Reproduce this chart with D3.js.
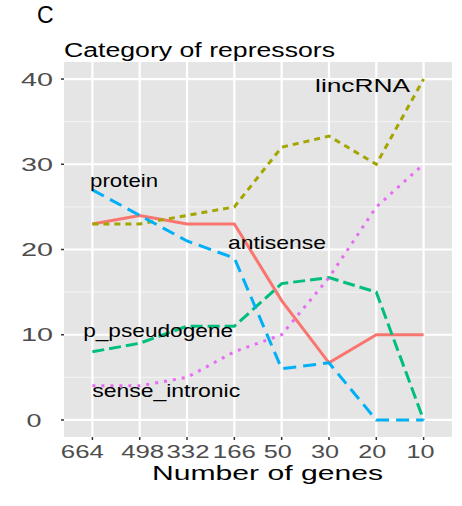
<!DOCTYPE html>
<html>
<head>
<meta charset="utf-8">
<script src="https://cdn.jsdelivr.net/npm/d3@7"></script>
<style>
  body { margin: 0; background: #fff; }
  svg text { font-family: "Liberation Sans", Arial, sans-serif; }
</style>
</head>
<body>
<svg id="chart" width="462" height="506"></svg>
<script>
// DATA
const genes = ["664", "498", "332", "166", "50", "30", "20", "10"];
const categories = ["antisense", "lincRNA", "p_pseudogene", "protein", "sense_intronic"];
const antisense = [23, 24, 23, 23, 14, 6.7, 10, 10];
const lincRNA = [23, 23, 24, 25, 32, 33.3, 30, 40];
const pPseudogene = [8, 9, 11, 11, 16, 16.7, 15, 0];
const protein = [27, 24, 21, 19, 6, 6.7, 0, 0];
const senseIntronic = [4, 4, 5, 8, 10, 16.7, 25, 30];
const yTicks = [0, 10, 20, 30, 40];

// label anchors (category index, value)
const labelIdx = [3.9, 5.71, 1.39, 0.67, 1.56];
const labelVal = [20.8, 39.3, 10.55, 28.15, 3.5];

// SETUP
const panel = { left: 64, right: 452, top: 62, bottom: 437 };
const colors = ["#F8766D", "#A3A500", "#00BF7D", "#00B0F6", "#E76BF3"];
const dashes = [null, "6,5", "12,5", "13,7", "3,6"];
const labelWidth = [98, 95, 150, 68, 148];

const svg = d3.select("#chart");

// SCALES
const x = d3.scalePoint()
    .domain(genes)
    .range([panel.left, panel.right])
    .padding(0.6);

const y = d3.scaleLinear()
    .domain([-2, 42])
    .range([panel.bottom, panel.top]);

const xIdx = d3.scaleLinear()
    .domain([0, genes.length - 1])
    .range([x(genes[0]), x(genes[genes.length - 1])]);

// PANEL + GRID
svg.append("rect")
    .attr("x", panel.left)
    .attr("y", panel.top)
    .attr("width", panel.right - panel.left)
    .attr("height", panel.bottom - panel.top)
    .attr("fill", "#E5E5E5");

// minor grid
svg.selectAll(".minor")
    .data([5, 15, 25, 35])
    .enter()
    .append("line")
    .attr("x1", panel.left)
    .attr("x2", panel.right)
    .attr("y1", d => y(d))
    .attr("y2", d => y(d))
    .attr("stroke", "#F2F2F2")
    .attr("stroke-width", 1.2);

// major grid
svg.selectAll(".hgrid")
    .data(yTicks)
    .enter()
    .append("line")
    .attr("x1", panel.left)
    .attr("x2", panel.right)
    .attr("y1", d => y(d))
    .attr("y2", d => y(d))
    .attr("stroke", "#fff")
    .attr("stroke-width", 2.2);

svg.selectAll(".vgrid")
    .data(genes)
    .enter()
    .append("line")
    .attr("x1", d => x(d))
    .attr("x2", d => x(d))
    .attr("y1", panel.top)
    .attr("y2", panel.bottom)
    .attr("stroke", "#fff")
    .attr("stroke-width", 2.2);

// LINES
const seriesData = [antisense, lincRNA, pPseudogene, protein, senseIntronic];

const line = d3.line()
    .x((d, i) => x(genes[i]))
    .y(d => y(d));

seriesData.forEach((vals, k) => {
    svg.append("path")
        .datum(vals)
        .attr("d", line)
        .attr("fill", "none")
        .attr("stroke", colors[k])
        .attr("stroke-width", 3)
        .attr("stroke-dasharray", dashes[k]);
});

// LABELS
categories.forEach((name, k) => {
    svg.append("text")
        .attr("x", xIdx(labelIdx[k]))
        .attr("y", y(labelVal[k]))
        .attr("text-anchor", "middle")
        .attr("dominant-baseline", "central")
        .attr("font-size", 19)
        .attr("textLength", labelWidth[k])
        .attr("lengthAdjust", "spacingAndGlyphs")
        .attr("fill", "#000")
        .text(name);
});

// AXES
// y ticks
svg.selectAll(".ytick")
    .data(yTicks)
    .enter()
    .append("line")
    .attr("x1", panel.left - 3)
    .attr("x2", panel.left)
    .attr("y1", d => y(d))
    .attr("y2", d => y(d))
    .attr("stroke", "#333")
    .attr("stroke-width", 1.5);

svg.selectAll(".ylab")
    .data(yTicks)
    .enter()
    .append("text")
    .attr("x", d => d === 0 ? 34 : 37)
    .attr("y", d => y(d))
    .attr("dy", "0.36em")
    .attr("text-anchor", "middle")
    .attr("font-size", 18.5)
    .attr("textLength", d => String(d).length === 1 ? 15 : 32)
    .attr("lengthAdjust", "spacingAndGlyphs")
    .attr("fill", "#4D4D4D")
    .text(d => d);

// x ticks
svg.selectAll(".xtick")
    .data(genes)
    .enter()
    .append("line")
    .attr("x1", d => x(d))
    .attr("x2", d => x(d))
    .attr("y1", panel.bottom)
    .attr("y2", panel.bottom + 3)
    .attr("stroke", "#333")
    .attr("stroke-width", 1.5);

const xLabelShift = [-10, 3, 1, 0, -4, -4, -4, -3];
svg.selectAll(".xlab")
    .data(genes)
    .enter()
    .append("text")
    .attr("x", (d, i) => x(d) + xLabelShift[i])
    .attr("y", 458)
    .attr("text-anchor", "middle")
    .attr("font-size", 17.5)
    .attr("textLength", d => d.length === 3 ? 43 : 28)
    .attr("lengthAdjust", "spacingAndGlyphs")
    .attr("fill", "#4D4D4D")
    .text(d => d);

// TITLES
svg.append("text")
    .attr("x", 152)
    .attr("y", 480)
    .attr("font-size", 20)
    .attr("textLength", 231)
    .attr("lengthAdjust", "spacingAndGlyphs")
    .attr("fill", "#000")
    .text("Number of genes");

svg.append("text")
    .attr("x", 64)
    .attr("y", 57)
    .attr("font-size", 20)
    .attr("textLength", 271)
    .attr("lengthAdjust", "spacingAndGlyphs")
    .attr("fill", "#000")
    .text("Category of repressors");

svg.append("text")
    .attr("x", 37)
    .attr("y", 22.5)
    .attr("font-size", 23)
    .attr("font-family", "Open Sans, DejaVu Sans, sans-serif")
    .attr("fill", "#000")
    .text("C");
</script>
</body>
</html>
